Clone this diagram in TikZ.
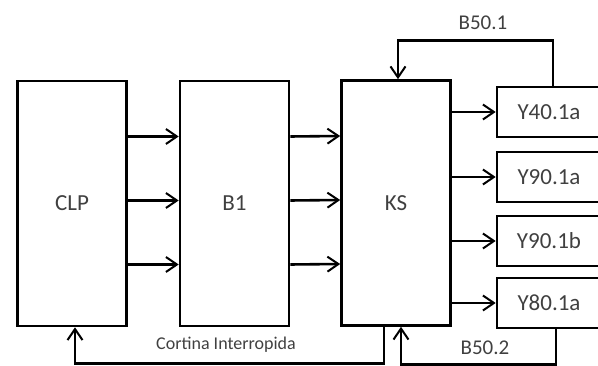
\documentclass[tikz,border=0pt]{standalone}
\usepackage{fontspec}
\setmainfont{Carlito}
\usepackage{tikz}
\usetikzlibrary{arrows.meta,positioning,calc}

\begin{document}
\begin{tikzpicture}[
  x=1pt, y=1pt,
  block/.style={draw, line width=2.6pt, minimum width=109pt, minimum height=245pt,
                text=black!75, font=\fontsize{23}{27}\selectfont},
  outbox/.style={draw, line width=2.6pt, minimum width=104pt, minimum height=50pt,
                 text=black!75, font=\fontsize{23}{27}\selectfont},
  arrow/.style={-{Straight Barb[length=11pt,width=15pt,line width=2pt]}, line width=2.6pt},
  sig/.style={text=black!75, font=\fontsize{21}{25}\selectfont},
  small/.style={text=black!75, font=\fontsize{18}{21}\selectfont}
]
\clip (0,0) rectangle (598,366);

% Blocks
\node[block] (clp) at (72, 162.5) {CLP};
\node[block] (b1) at (234.5, 162.5) {B1};
\node[block] (ks) at (396, 163) {KS};

% Output boxes
\node[outbox] (y40) at (549, 254) {Y40.1a};
\node[outbox] (y90a) at (549, 189) {Y90.1a};
\node[outbox] (y90b) at (549, 125) {Y90.1b};
\node[outbox] (y80) at (549, 63) {Y80.1a};

% Arrows between blocks
\foreach \dy in {67,3,-61} {
  \draw[arrow] ([yshift=\dy]clp.east) -- ([yshift=\dy]b1.west);
  \draw[arrow] ([yshift=\dy]b1.east) -- ([yshift=\dy]ks.west);
}
\foreach \out in {y40,y90a,y90b,y80}
  \draw[arrow] (ks.east |- \out.west) -- (\out.west);

% Feedback
\draw[arrow] ([xshift=4pt]y40.north) -- ++(0,45) -| ([xshift=2pt]ks.north);
\draw[arrow] ([xshift=7pt]y80.south) -- ++(0,-35) -| ([xshift=5pt]ks.south);
\draw[arrow] ([xshift=-12pt]ks.south) -- ++(0,-37) -| ([xshift=3pt]clp.south);

% Labels
\node[sig] (b501) at (483, 343) {B50.1};
\node[sig] (b502) at (485, 18) {B50.2};
\node[small] (cortina) at (226, 21) {Cortina Interropida};

\end{tikzpicture}
\end{document}
